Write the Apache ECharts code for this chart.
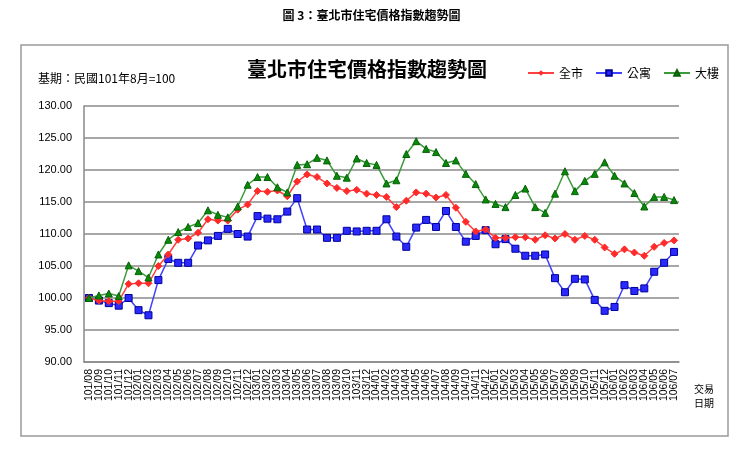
<!DOCTYPE html>
<html>
<head>
<meta charset="utf-8">
<script src="https://cdn.jsdelivr.net/npm/echarts@6/dist/echarts.min.js"></script>
<style>
html,body{margin:0;padding:0;background:#fff;}
#chart{width:743px;height:452px;}
</style>
</head>
<body>
<div id="chart"></div>
<script>
const categories = [
  '101/08','101/09','101/10','101/11','101/12',
  '102/01','102/02','102/03','102/04','102/05','102/06','102/07','102/08','102/09','102/10','102/11','102/12',
  '103/01','103/02','103/03','103/04','103/05','103/06','103/07','103/08','103/09','103/10','103/11','103/12',
  '104/01','104/02','104/03','104/04','104/05','104/06','104/07','104/08','104/09','104/10','104/11','104/12',
  '105/01','105/02','105/03','105/04','105/05','105/06','105/07','105/08','105/09','105/10','105/11','105/12',
  '106/01','106/02','106/03','106/04','106/05','106/06','106/07'
];
const cityAll = [
  100.0, 99.6, 99.5, 99.5, 102.2,
  102.3, 102.3, 105.0, 106.8, 109.1, 109.3, 110.2, 112.3, 112.1, 112.1, 113.8, 114.6,
  116.7, 116.6, 116.8, 115.9, 118.2, 119.3, 118.9, 117.9, 117.2, 116.7, 116.9, 116.3,
  116.1, 115.8, 114.2, 115.2, 116.5, 116.3, 115.7, 116.1, 114.1, 111.9, 110.4, 110.7,
  109.4, 109.4, 109.5, 109.5, 109.1, 109.8, 109.3, 110.0, 109.1, 109.7,
  109.1, 107.9, 106.9, 107.6, 107.1, 106.6, 108.0, 108.6, 109.0
];
const apartment = [
  100.0, 99.6, 99.2, 98.8, 100.0,
  98.1, 97.3, 102.8, 106.1, 105.5, 105.5, 108.2, 109.0, 109.7, 110.8, 110.0, 109.6,
  112.8, 112.4, 112.3, 113.5, 115.6, 110.7, 110.7, 109.4, 109.4, 110.5, 110.4, 110.5,
  110.5, 112.3, 109.6, 108.0, 111.0, 112.2, 111.1, 113.6, 111.1, 108.8, 109.7, 110.6,
  108.4, 109.2, 107.7, 106.6, 106.6, 106.8, 103.1, 100.9, 103.0, 102.9,
  99.7, 98.0, 98.6, 102.0, 101.1, 101.5, 104.1, 105.5, 107.2
];
const building = [
  100.0, 100.4, 100.7, 100.3, 105.1,
  104.2, 103.2, 106.8, 109.1, 110.3, 111.1, 111.7, 113.7, 113.0, 112.6, 114.3, 117.7,
  118.9, 118.9, 117.3, 116.5, 120.8, 120.9, 121.9, 121.5, 119.1, 118.8, 121.8, 121.1,
  120.8, 117.9, 118.4, 122.5, 124.5, 123.3, 122.8, 121.1, 121.5, 119.4, 117.8, 115.4,
  114.7, 114.2, 116.1, 117.1, 114.2, 113.3, 116.3, 119.8, 116.7, 118.3,
  119.4, 121.2, 119.1, 117.9, 116.4, 114.3, 115.8, 115.8, 115.3
];
const seriesNames = ['全市', '公寓', '大樓'];

const chart = echarts.init(document.getElementById('chart'), null, {renderer: 'canvas'});
const cjk = '"Noto Sans CJK TC", "Noto Sans CJK SC", sans-serif';
chart.setOption({
  animation: false,
  backgroundColor: '#ffffff',
  graphic: [
    {type: 'rect', shape: {x: 21, y: 45, width: 707, height: 391},
     style: {fill: 'none', stroke: '#9a9a9a', lineWidth: 1.5}, silent: true},
    {type: 'text', left: 'center', top: 9,
     style: {text: '圖 3：臺北市住宅價格指數趨勢圖', font: 'bold 12px ' + cjk, fill: '#000', letterSpacing: 3.5}},
    {type: 'text', left: 38, top: 72,
     style: {text: '基期：民國101年8月=100', font: '12px ' + cjk, fill: '#000'}},
    {type: 'text', left: 694, top: 382,
     style: {text: '交易\n日期', font: '10px ' + cjk, fill: '#000', lineHeight: 14, letterSpacing: 2}}
  ],
  title: {
    text: '臺北市住宅價格指數趨勢圖',
    left: 242, top: 54,
    textStyle: {fontFamily: cjk, fontSize: 20, fontWeight: 'bold', color: '#000'}
  },
  legend: {
    data: seriesNames,
    left: 522, top: 62,
    itemWidth: 26, itemHeight: 7, itemGap: 12,
    textStyle: {fontFamily: cjk, fontSize: 12, color: '#000'}
  },
  grid: {left: 84, right: 64, top: 106, bottom: 90, containLabel: false},
  xAxis: {
    type: 'category',
    data: categories,
    boundaryGap: true,
    axisLine: {lineStyle: {color: '#8a8a8a', width: 1.5}},
    axisTick: {show: false},
    axisLabel: {interval: 0, rotate: 90, fontSize: 10.5, fontFamily: 'Liberation Sans, Arial', color: '#000', margin: 7}
  },
  yAxis: {
    type: 'value',
    min: 90, max: 130, interval: 5,
    axisLine: {show: true, lineStyle: {color: '#8a8a8a', width: 1.5}},
    axisTick: {show: false},
    splitLine: {lineStyle: {color: '#8a8a8a', width: 1.5}},
    axisLabel: {formatter: v => v.toFixed(2), fontSize: 11, fontFamily: 'Liberation Sans, Arial', color: '#000', margin: 12}
  },
  series: [
    {name: seriesNames[0], type: 'line', data: cityAll, symbol: 'diamond', symbolSize: 7,
     lineStyle: {color: '#ff4040', width: 1.5}, itemStyle: {color: '#ff2a2a', borderColor: '#ff2a2a'}, z: 3},
    {name: seriesNames[1], type: 'line', data: apartment, symbol: 'rect', symbolSize: 7,
     lineStyle: {color: '#4040ff', width: 1.5}, itemStyle: {color: '#2a2aff', borderColor: '#000099', borderWidth: 1}, z: 2},
    {name: seriesNames[2], type: 'line', data: building, symbol: 'triangle', symbolSize: 7,
     lineStyle: {color: '#3c9a3c', width: 1.5}, itemStyle: {color: '#0a8a0a', borderColor: '#066006', borderWidth: 1}, z: 4}
  ]
});
</script>
</body>
</html>
